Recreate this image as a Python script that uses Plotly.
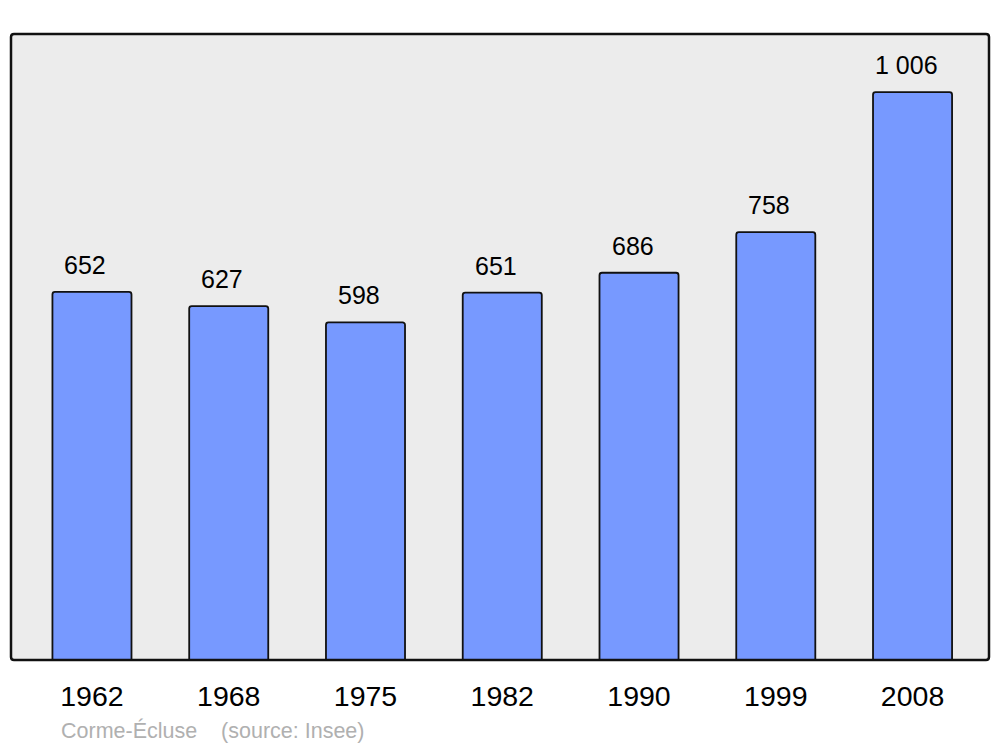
import plotly.graph_objects as go

years = ["1962", "1968", "1975", "1982", "1990", "1999", "2008"]
population = [652, 627, 598, 651, 686, 758, 1006]
value_labels = ["652", "627", "598", "651", "686", "758", "1 006"]
caption = "Corme-Écluse    (source: Insee)"

# page body has an 8px margin; compensate so the plot lands where the reference has it
W, H = 992, 739
ml, mr, mt, mb = 3, 11, 26, 87
xs = list(range(len(years)))
FONT = "Liberation Sans, Arial, sans-serif"

fig = go.Figure()
fig.add_trace(go.Bar(
    x=xs, y=population, width=0.578,
    marker=dict(color="#7799ff", line=dict(color="#111111", width=1.8), cornerradius=2.5),
    hoverinfo="skip",
))

for i, (v, t) in enumerate(zip(population, value_labels)):
    fig.add_annotation(x=i, y=v, text=t, showarrow=False, yanchor="bottom",
                       yshift=11, xshift=-6.5,
                       font=dict(size=25, color="#000000", family=FONT))

pw, ph = W - ml - mr, H - mt - mb
r = 3
rx, ry = r / pw, r / ph
frame = (f"M {rx},0 L {1-rx},0 Q 1,0 1,{ry} L 1,{1-ry} Q 1,1 {1-rx},1 "
         f"L {rx},1 Q 0,1 0,{1-ry} L 0,{ry} Q 0,0 {rx},0 Z")
fig.add_shape(type="path", path=frame, xref="paper", yref="paper",
              line=dict(color="#111111", width=2.5), layer="above")

fig.add_annotation(x=(51 - ml) / pw, y=(H - mb - 722) / ph, xref="paper", yref="paper",
                   text=caption.replace("    ", "\u00a0\u00a0\u00a0\u00a0"),
                   showarrow=False, xanchor="left", yanchor="middle",
                   font=dict(size=21.5, color="#b0b0b0", family=FONT))

fig.update_layout(
    width=W, height=H,
    margin=dict(l=ml, r=mr, t=mt, b=mb),
    paper_bgcolor="#ffffff", plot_bgcolor="#ececec",
    showlegend=False,
    font=dict(family=FONT, color="#000000"),
    xaxis=dict(range=[-0.592, 6.559], tickmode="array", tickvals=xs, ticktext=years,
               showgrid=False, zeroline=False, showline=False,
               ticks="", ticklabelstandoff=16, tickfont=dict(size=28.5)),
    yaxis=dict(range=[0, 1109], showgrid=False, zeroline=False, showline=False,
               showticklabels=False, ticks=""),
)

fig.write_html("out.html")
